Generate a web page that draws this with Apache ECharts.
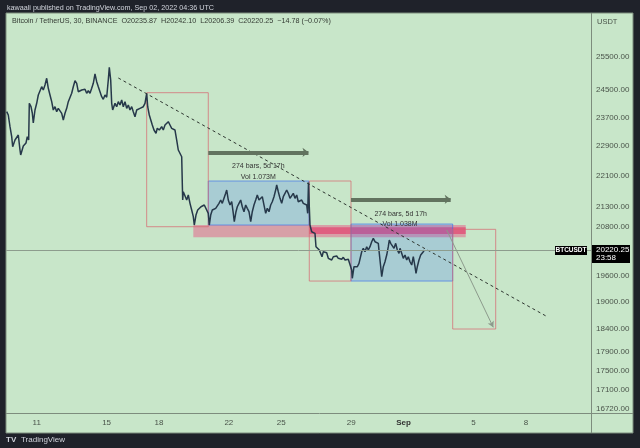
<!DOCTYPE html>
<html>
<head>
<meta charset="utf-8">
<script src="https://cdn.jsdelivr.net/npm/echarts@6/dist/echarts.min.js"></script>
<style>
html,body{margin:0;padding:0;background:#1f222a;}
#c{width:640px;height:448px;}
</style>
</head>
<body>
<div id="c"></div>
<script>
// ---- data (day of Aug 2022; Sep 1 = 32) ----
const priceTimes = [9.283,9.374,9.472,9.569,9.626,9.758,9.855,9.947,10.044,10.084,10.233,10.388,10.462,10.542,10.577,10.674,10.748,10.805,10.903,11.000,11.092,11.189,11.286,11.378,11.475,11.572,11.664,11.761,11.859,11.950,12.048,12.145,12.236,12.334,12.431,12.523,12.620,12.717,12.809,12.906,13.003,13.095,13.192,13.290,13.381,13.479,13.576,13.667,13.765,13.862,13.954,14.051,14.148,14.240,14.337,14.434,14.526,14.623,14.720,14.812,14.909,15.007,15.098,15.156,15.236,15.293,15.350,15.482,15.579,15.671,15.768,15.865,15.957,16.054,16.152,16.243,16.340,16.438,16.529,16.627,16.724,16.816,16.913,17.010,17.102,17.199,17.296,17.354,17.445,17.525,17.617,17.714,17.829,17.903,18.018,18.155,18.246,18.344,18.441,18.533,18.630,18.727,18.819,18.916,19.014,19.105,19.202,19.300,19.334,19.357,19.391,19.489,19.586,19.678,19.775,19.872,19.964,20.021,20.118,20.216,20.307,20.404,20.502,20.593,20.691,20.822,20.880,20.960,21.052,21.149,21.246,21.338,21.435,21.532,21.624,21.721,21.818,21.876,21.967,22.065,22.162,22.254,22.311,22.408,22.483,22.580,22.677,22.769,22.866,22.963,23.055,23.152,23.250,23.341,23.438,23.536,23.627,23.725,23.822,23.914,24.011,24.108,24.200,24.297,24.394,24.486,24.583,24.680,24.738,24.830,24.927,25.024,25.116,25.213,25.310,25.402,25.499,25.597,25.688,25.785,25.883,25.974,26.071,26.169,26.260,26.358,26.455,26.512,26.558,26.604,26.644,26.741,26.833,26.930,26.987,27.062,27.176,27.256,27.331,27.405,27.503,27.600,27.692,27.789,27.886,27.978,28.075,28.173,28.264,28.361,28.459,28.550,28.648,28.745,28.837,28.934,29.031,29.066,29.163,29.260,29.352,29.449,29.546,29.604,29.695,29.793,29.890,29.982,30.079,30.176,30.268,30.365,30.462,30.554,30.611,30.691,30.749,30.840,30.937,31.035,31.126,31.184,31.264,31.355,31.453,31.550,31.642,31.739,31.796,31.893,31.985,32.082,32.180,32.271,32.368,32.466,32.557,32.655,32.712,32.786,32.883,32.980,33.055,33.129,33.190];
const priceCloses = [23867,23773,23442,23163,22887,23071,23024,23210,22797,22661,22906,22989,23163,23071,24108,24010,23830,23546,23915,24108,24349,24399,24592,24495,24642,24841,24545,24349,24155,23915,24010,23867,23964,23915,23821,23631,23821,23964,24155,24108,24399,24592,24770,24692,24445,24399,24495,24445,24516,24399,24475,24399,24545,24692,24969,24740,24592,24445,24300,24224,24349,24282,24790,25170,24790,24108,23915,24108,24010,24155,24059,24204,24010,24155,23964,24059,23915,24010,23867,23724,23915,23867,23964,23915,24010,24108,24399,24010,23773,23821,23490,23349,23257,23397,23349,23442,23349,23490,23442,23583,23490,23397,23442,23349,23071,22797,22843,22614,21905,21472,21686,21645,21472,21601,21387,21216,21047,20838,21089,21216,21173,21300,21259,21343,21300,21132,20838,21089,21216,21173,21259,21216,21387,21472,21387,21515,21645,21730,21472,21343,21428,21132,20921,21173,21300,21387,21472,21300,21173,21343,21259,21173,20921,21173,21343,21472,21601,21472,21428,21557,21343,21132,21259,21173,21343,21428,21557,21730,21861,21686,21515,21387,21557,21645,21730,21645,21515,21472,21645,21515,21601,21428,21387,21472,21387,21428,21343,21132,21926,21300,20838,20672,20714,20632,20304,20265,20224,20265,20062,20182,20224,20158,20024,20062,19983,20062,20024,20079,20024,20062,20000,20048,19983,20024,20000,19983,19745,19550,19823,19864,19823,19904,19942,20182,20265,20182,20304,20224,20304,20426,20509,20426,20467,20386,20144,19823,19587,19823,19942,20103,20304,20467,20386,20345,20265,20386,20224,20144,20265,20144,20024,20103,19983,20062,19942,19864,20062,19823,19667,19823,19983,20103,20062,20182,20220.25];

const xTickDays = [11,15,18,22,25,29,32,36,39];
const xTickLabels = ['11','15','18','22','25','29','Sep','5','8'];
const priceTicks = [25500,24500,23700,22900,22100,21300,20800,19600,19000,18400,17900,17500,17100,16720];

// drawings: [startDay, endDay, topPrice, bottomPrice]
const rangeBoxes = [[20.822,26.587,21966,20838],[28.991,34.812,20863,19486]];
const outlineBoxes = [[17.296,20.822,24416,20796],[26.604,28.991,21966,19486],[34.812,37.274,20731,18398]];
const zoneBand = [19.964,35.557,20838,20534];
const zoneStripe = [26.604,35.557,20781,20615];
const trendLine = [[15.671,24850],[40.153,18687]];
const rangeArrows = [[20.822,26.558,22734],[28.991,34.698,21490]];
const projection = [[34.469,20714],[37.137,18435]];
const rangeTexts = [[23.685,22364,'274 bars, 5d 17h'],[23.685,22063,'Vol 1.073M'],[31.836,21107,'274 bars, 5d 17h'],[31.796,20856,'Vol 1.038M']];
const lastPrice = 20220.25;
const yPriceMin = 16638, yPriceMax = 26861;
const xMin = 9.243, xMax = 42.729;

const L = Math.log;
const FONT = 'Liberation Sans, Arial, sans-serif';
const chart = echarts.init(document.getElementById('c'), null, {renderer:'canvas'});

const area = (b, style) => [{coord:[b[0], L(b[2])], itemStyle:style},{coord:[b[1], L(b[3])]}];

const option = {
  backgroundColor:'#1f222a',
  animation:false,
  grid:{left:6, right:49, top:13, bottom:35},
  xAxis:{type:'value', min:xMin, max:xMax,
    axisLine:{show:false}, axisTick:{show:false}, splitLine:{show:false},
    axisLabel:{customValues:xTickDays, margin:6, fontSize:8, fontFamily:FONT, color:'#4a544a',
      formatter:(v)=>{const i=xTickDays.indexOf(Math.round(v)); return i>=0? (xTickLabels[i]==='Sep'?'{b|Sep}':xTickLabels[i]):'';},
      rich:{b:{fontWeight:'bold', fontSize:8, fontFamily:FONT, color:'#333'}}}
  },
  yAxis:{type:'value', position:'right', min:L(yPriceMin), max:L(yPriceMax),
    axisLine:{show:false}, axisTick:{show:false}, splitLine:{show:false},
    axisLabel:{customValues:priceTicks.map(L), margin:5, fontSize:8, fontFamily:FONT, color:'#4a544a',
      formatter:(v)=>Math.exp(v).toFixed(0)+'.00'}
  },
  series:[
    {type:'line', name:'draw', z:1, data:[], silent:true,
      markArea:{silent:true, label:{show:false}, data:[
        area(zoneBand,{color:'rgba(236,64,122,0.42)', borderWidth:0}),
        area(zoneStripe,{color:'rgba(232,30,90,0.5)', borderWidth:0}),
        ...rangeBoxes.map(b=>area(b,{color:'rgba(41,98,255,0.2)', borderColor:'rgba(60,110,235,0.65)', borderWidth:1})),
        ...outlineBoxes.map(b=>area(b,{color:'rgba(0,0,0,0)', borderColor:'rgba(215,100,110,0.7)', borderWidth:1}))
      ]},
      markLine:{silent:true, label:{show:false}, animation:false, data:[
        [{coord:[trendLine[0][0],L(trendLine[0][1])], symbol:'none', lineStyle:{color:'#2e3630', width:1, type:[3,3]}},
         {coord:[trendLine[1][0],L(trendLine[1][1])], symbol:'none'}],
        ...rangeArrows.map(a=>[{coord:[a[0],L(a[2])], symbol:'none', lineStyle:{color:'#62735f', width:4, type:'solid'}},
          {coord:[a[1],L(a[2])], symbol:'arrow', symbolSize:[7,6]}]),
        [{coord:[projection[0][0],L(projection[0][1])], symbol:'none', lineStyle:{color:'#8c9a8c', width:1, type:'solid'}},
         {coord:[projection[1][0],L(projection[1][1])], symbol:'arrow', symbolSize:[5,6]}],
        [{coord:[xMin,L(lastPrice)], symbol:'none', lineStyle:{color:'#8d9c8d', width:1, type:'solid'}},
         {coord:[xMax,L(lastPrice)], symbol:'none'}]
      ]},
      markPoint:{silent:true, symbol:'circle', symbolSize:0, data:rangeTexts.map(t=>({coord:[t[0],L(t[1])], value:t[2],
        label:{show:true, formatter:t[2], position:'inside', fontSize:7, fontFamily:FONT, color:'#333'}}))}
    },
    {type:'line', z:3, showSymbol:false, symbol:'none', silent:true,
      data:priceTimes.map((t,i)=>[t, L(priceCloses[i])]),
      lineStyle:{color:'#26384a', width:1.5}}
  ]
};
chart.setOption(option);

const p = chart.convertToPixel({gridIndex:0},[priceTimes[priceTimes.length-1], L(lastPrice)]);
const py = Math.round(p[1]);
chart.setOption({graphic:[
  {type:'rect', z:-10, silent:true, shape:{x:6,y:13,width:627,height:420}, style:{fill:'#c8e6c9', stroke:'#7d8c7d', lineWidth:1}},
  {type:'line', z:100, silent:true, shape:{x1:591.5,y1:13,x2:591.5,y2:433}, style:{stroke:'#7d8c7d', lineWidth:1}},
  {type:'line', z:100, silent:true, shape:{x1:6,y1:413.5,x2:633,y2:413.5}, style:{stroke:'#7d8c7d', lineWidth:1}},
  {type:'text', z:100, silent:true, style:{x:7, y:8, text:'kawaali published on TradingView.com, Sep 02, 2022 04:36 UTC', fill:'#d1d4dc', fontSize:7.2, fontFamily:FONT, verticalAlign:'middle'}},
  {type:'text', z:100, silent:true, style:{x:12, y:21, text:'Bitcoin / TetherUS, 30, BINANCE  O20235.87  H20242.10  L20206.39  C20220.25  \u221214.78 (\u22120.07%)', fill:'#333a33', fontSize:7.2, fontFamily:FONT, verticalAlign:'middle'}},
  {type:'text', z:100, silent:true, style:{x:597, y:22, text:'USDT', fill:'#4a544a', fontSize:7.5, fontFamily:FONT, verticalAlign:'middle'}},
  {type:'rect', z:100, silent:true, shape:{x:555,y:py-4,width:32,height:9}, style:{fill:'#000'}},
  {type:'text', z:101, silent:true, style:{x:571, y:py+0.5, text:'BTCUSDT', fill:'#fff', fontSize:6.5, fontWeight:'bold', fontFamily:FONT, align:'center', verticalAlign:'middle'}},
  {type:'rect', z:100, silent:true, shape:{x:592,y:py-5,width:38,height:18}, style:{fill:'#000'}},
  {type:'text', z:101, silent:true, style:{x:596, y:py, text:'20220.25', fill:'#fff', fontSize:8, fontFamily:FONT, verticalAlign:'middle'}},
  {type:'text', z:101, silent:true, style:{x:596, y:py+8, text:'23:58', fill:'#fff', fontSize:8, fontFamily:FONT, verticalAlign:'middle'}},
  {type:'text', z:100, silent:true, style:{x:6, y:440, text:'TV', fill:'#d1d4dc', fontSize:8, fontWeight:'bold', fontFamily:FONT, verticalAlign:'middle'}},
  {type:'text', z:100, silent:true, style:{x:21, y:440, text:'TradingView', fill:'#d1d4dc', fontSize:8, fontFamily:FONT, verticalAlign:'middle'}}
]});
</script>
</body>
</html>
